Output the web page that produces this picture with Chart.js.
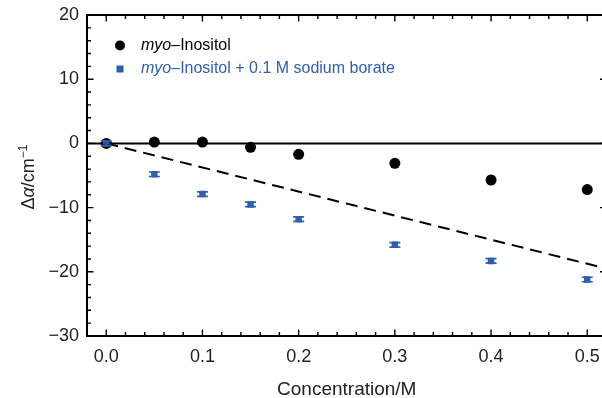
<!DOCTYPE html>
<html>
<head>
<meta charset="utf-8">
<script src="https://cdn.jsdelivr.net/npm/chart.js@4.4.1/dist/chart.umd.min.js"></script>
<style>
  html, body { margin: 0; padding: 0; background: #fff; }
  #wrap { width: 602px; height: 398px; overflow: hidden; }
  canvas { display: block; }
</style>
</head>
<body>
<div id="wrap"><canvas id="chart" width="612" height="398"></canvas></div>
<script>
// concentrations (M)
const concentrations = [0, 0.05, 0.1, 0.15, 0.2, 0.3, 0.4, 0.5];
// myo-Inositol
const inositolValues = [0, 0.2, 0.2, -0.6, -1.7, -3.1, -5.7, -7.2];
const inositolErrors = [0.3, 0.3, 0.3, 0.3, 0.3, 0.3, 0.3, 0.3];
// myo-Inositol + 0.1 M sodium borate
const borateValues = [0, -4.8, -7.9, -9.5, -11.8, -15.8, -18.3, -21.2];
const borateErrors = [0.35, 0.35, 0.35, 0.35, 0.35, 0.35, 0.35, 0.35];
// dashed reference line
const fitX = [0, 0.52];
const fitY = [0, -19.5];

const xTicks = [0, 0.1, 0.2, 0.3, 0.4, 0.5];
const xMinorTicks = [0.02, 0.04, 0.06, 0.08, 0.12, 0.14, 0.16, 0.18, 0.22, 0.24, 0.26, 0.28,
                     0.32, 0.34, 0.36, 0.38, 0.42, 0.44, 0.46, 0.48];
const yTicks = [-30, -20, -10, 0, 10, 20];
const yMinorTicks = [-28, -26, -24, -22, -18, -16, -14, -12, -8, -6, -4, -2,
                     2, 4, 6, 8, 12, 14, 16, 18];

const FONT = '"Liberation Sans", Arial, Helvetica, sans-serif';
const BLUE = '#2f5fae';
const TEXT = '#222';

function toPoints(xs, ys) {
    return xs.map((x, i) => ({ x: x, y: ys[i] }));
}

// frame, inward ticks and zero line
const framePlugin = {
    id: 'frame',
    beforeDatasetsDraw(chart) {
        const ctx = chart.ctx;
        const a = chart.chartArea;
        const xs = chart.scales.x, ys = chart.scales.y;
        ctx.save();
        ctx.strokeStyle = '#000';
        // zero line
        ctx.lineWidth = 2;
        const y0 = ys.getPixelForValue(0);
        ctx.beginPath();
        ctx.moveTo(a.left, y0);
        ctx.lineTo(a.right, y0);
        ctx.stroke();
        // ticks
        ctx.lineWidth = 1.4;
        ctx.beginPath();
        function xt(v, len) {
            const px = xs.getPixelForValue(v);
            ctx.moveTo(px, a.bottom); ctx.lineTo(px, a.bottom - len);
            ctx.moveTo(px, a.top); ctx.lineTo(px, a.top + len);
        }
        function yt(v, len) {
            const py = ys.getPixelForValue(v);
            ctx.moveTo(a.left, py); ctx.lineTo(a.left + len, py);
            ctx.moveTo(a.right, py); ctx.lineTo(a.right - len, py);
        }
        xTicks.forEach(v => xt(v, 6.5));
        xMinorTicks.forEach(v => xt(v, 4));
        yTicks.forEach(v => yt(v, 6.5));
        yMinorTicks.forEach(v => yt(v, 4));
        ctx.stroke();
        // frame
        ctx.lineWidth = 2;
        ctx.strokeRect(a.left, a.top, a.right - a.left, a.bottom - a.top);
        ctx.restore();
    }
};

// error bars drawn on top of markers
const errorBarPlugin = {
    id: 'errorBars',
    afterDatasetsDraw(chart) {
        const ctx = chart.ctx;
        const xs = chart.scales.x, ys = chart.scales.y;
        const sets = [
            { vals: inositolValues, errs: inositolErrors, color: '#000', cap: 8 },
            { vals: borateValues, errs: borateErrors, color: BLUE, cap: 11 }
        ];
        ctx.save();
        ctx.lineWidth = 1.6;
        sets.forEach(s => {
            ctx.strokeStyle = s.color;
            concentrations.forEach((c, i) => {
                const px = xs.getPixelForValue(c);
                const top = ys.getPixelForValue(s.vals[i] + s.errs[i]);
                const bot = ys.getPixelForValue(s.vals[i] - s.errs[i]);
                ctx.beginPath();
                ctx.moveTo(px, top); ctx.lineTo(px, bot);
                ctx.moveTo(px - s.cap / 2, top); ctx.lineTo(px + s.cap / 2, top);
                ctx.moveTo(px - s.cap / 2, bot); ctx.lineTo(px + s.cap / 2, bot);
                ctx.stroke();
            });
        });
        ctx.restore();
    }
};

// legend, axis titles
const textPlugin = {
    id: 'texts',
    afterDraw(chart) {
        const ctx = chart.ctx;
        const a = chart.chartArea;
        ctx.save();
        ctx.textBaseline = 'middle';
        ctx.textAlign = 'left';

        // legend
        ctx.fillStyle = '#000';
        ctx.beginPath();
        ctx.arc(120, 45.5, 5, 0, Math.PI * 2);
        ctx.fill();
        ctx.font = 'italic 16px ' + FONT;
        ctx.fillText('myo', 141, 45.5);
        let w = ctx.measureText('myo').width;
        ctx.font = '16px ' + FONT;
        ctx.fillText('\u2013Inositol', 141 + w, 45.5);

        ctx.fillStyle = BLUE;
        ctx.fillRect(116.5, 65.5, 7, 7);
        ctx.font = 'italic 16px ' + FONT;
        ctx.fillText('myo', 141, 69);
        w = ctx.measureText('myo').width;
        ctx.font = '16px ' + FONT;
        ctx.fillText('\u2013Inositol + 0.1 M sodium borate', 141 + w, 69);

        // x title
        ctx.fillStyle = TEXT;
        ctx.textAlign = 'center';
        ctx.textBaseline = 'alphabetic';
        ctx.font = '19px ' + FONT;
        ctx.fillText('Concentration/M', (a.left + a.right) / 2, 395);

        // y title: Δα/cm⁻¹ with italic α
        ctx.translate(34, 177);
        ctx.rotate(-Math.PI / 2);
        ctx.textAlign = 'left';
        const parts = [
            { t: '\u0394', f: '18px ' + FONT, dy: 0 },
            { t: '\u03b1', f: 'italic 18px ' + FONT, dy: 0 },
            { t: '/cm', f: '18px ' + FONT, dy: 0 },
            { t: '\u22121', f: '12px ' + FONT, dy: -7 }
        ];
        let total = 0;
        parts.forEach(p => { ctx.font = p.f; p.w = ctx.measureText(p.t).width; total += p.w; });
        let x = -total / 2;
        parts.forEach(p => { ctx.font = p.f; ctx.fillText(p.t, x, p.dy); x += p.w; });
        ctx.restore();
    }
};

new Chart(document.getElementById('chart'), {
    type: 'scatter',
    data: {
        datasets: [
            {
                label: 'myo-Inositol + 0.1 M sodium borate',
                data: toPoints(concentrations, borateValues),
                pointStyle: 'rect',
                pointRadius: 4.6,
                backgroundColor: BLUE,
                borderColor: BLUE,
                borderWidth: 0,
                order: 0
            },
            {
                label: 'myo-Inositol',
                data: toPoints(concentrations, inositolValues),
                pointStyle: 'circle',
                pointRadius: 5.5,
                backgroundColor: '#000',
                borderColor: '#000',
                borderWidth: 0,
                order: 1
            },
            {
                type: 'line',
                label: 'fit',
                data: toPoints(fitX, fitY),
                borderColor: '#000',
                borderWidth: 2,
                borderDash: [12, 7],
                pointRadius: 0,
                fill: false,
                order: 2
            }
        ]
    },
    options: {
        responsive: false,
        animation: false,
        devicePixelRatio: 1,
        layout: { padding: { top: 15, right: 2, left: 0, bottom: 0 } },
        plugins: {
            legend: { display: false },
            tooltip: { enabled: false }
        },
        scales: {
            x: {
                type: 'linear',
                min: -0.02,
                max: 0.52,
                afterFit: s => { s.height = 62; s.paddingLeft = 0; s.paddingRight = 0; },
                afterBuildTicks: s => { s.ticks = xTicks.map(v => ({ value: v })); },
                grid: { display: false, drawTicks: false },
                border: { display: false },
                ticks: {
                    padding: 10,
                    color: TEXT,
                    font: { family: FONT, size: 18 },
                    callback: v => v.toFixed(1)
                }
            },
            y: {
                type: 'linear',
                min: -30,
                max: 20,
                afterFit: s => { s.width = 87; s.paddingTop = 0; s.paddingBottom = 0; },
                afterBuildTicks: s => { s.ticks = yTicks.map(v => ({ value: v })); },
                grid: { display: false, drawTicks: false },
                border: { display: false },
                ticks: {
                    padding: 8,
                    color: TEXT,
                    font: { family: FONT, size: 18 },
                    callback: v => (v < 0 ? '\u2212' + Math.abs(v) : String(v))
                }
            }
        }
    },
    plugins: [framePlugin, errorBarPlugin, textPlugin]
});
</script>
</body>
</html>
